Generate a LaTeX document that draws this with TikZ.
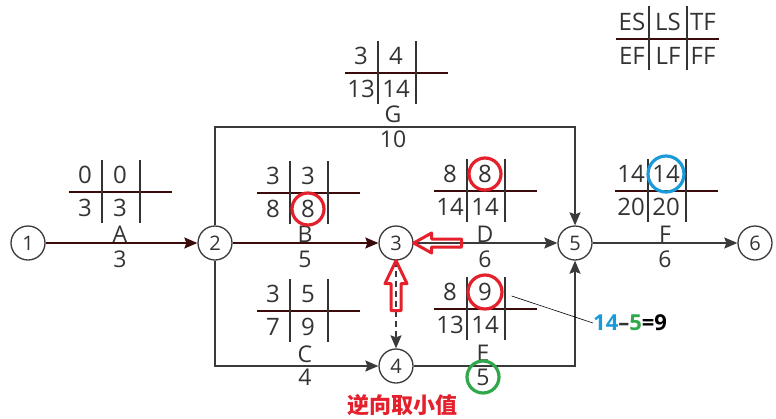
\documentclass[tikz,border=0pt]{standalone}
\usepackage{fontspec}
\setmainfont{Open Sans}
\newfontfamily\cjk{Noto Sans CJK SC}
\usetikzlibrary{arrows.meta,calc}
\definecolor{txt}{HTML}{333333}
\definecolor{maroon}{HTML}{3B0A0A}
\definecolor{edgec}{HTML}{3A3A3A}
\definecolor{myred}{HTML}{E3202B}
\definecolor{myblue}{HTML}{1B9AD8}
\definecolor{mygreen}{HTML}{2EA84A}
\tikzset{
  ev/.style={circle,draw=edgec,line width=1.3pt,fill=white,minimum size=34pt,inner sep=0pt,font=\fontsize{20}{22}\selectfont,text=txt},
  num/.style={inner sep=0pt,font=\fontsize{24}{26}\selectfont,text=txt},
  lab/.style={inner sep=0pt,font=\fontsize{23}{25}\selectfont,text=txt},
  hline/.style={draw=maroon,line width=1.6pt},
  vline/.style={draw=txt,line width=1.4pt},
  edge/.style={draw=edgec,line width=1.6pt,-{Stealth[length=13pt,width=11pt,inset=2pt]}},
  medge/.style={edge,draw=maroon},
  ring/.style={circle,draw=#1,line width=3.2pt,inner sep=0pt,minimum size=32pt},
  redarr/.style={draw=myred,line width=3pt,line join=round},
}
\newcommand\tabl[7]{%
  \draw[hline] (#2,#3) -- ++(103,0);
  \draw[vline] (#2+33,#3-32) -- ++(0,63);
  \draw[vline] (#2+71,#3-32) -- ++(0,63);
  \node[num] (#1a) at (#2+16,#3-17) {#4};
  \node[num] (#1b) at (#2+51,#3-17) {#5};
  \node[num] (#1c) at (#2+16,#3+16) {#6};
  \node[num] (#1d) at (#2+51,#3+16) {#7};
}
\begin{document}
\begin{tikzpicture}[x=1pt,y=-1pt]
\useasboundingbox (0,0) rectangle (776,418);
% events
\node[ev] (n1) at (28,243) {1};
\node[ev] (n2) at (215,243) {2};
\node[ev] (n3) at (396,243) {3};
\node[ev] (n5) at (575,243) {5};
\node[ev] (n6) at (755,243) {6};
\node[ev] (n4) at (396,366) {4};
\coordinate (gtop) at (393,127);
% activities
\draw[medge] (n1) -- (n2);
\draw[medge] (n2) -- (n3);
\draw[edge] (n3) -- (n5);
\draw[edge] (n5) -- (n6);
\draw[edge] (n2) |- (gtop) -| (n5);
\draw[edge] (n2) |- (n4);
\draw[edge] (n4) -| (n5);
\draw[edge,dash pattern=on 6pt off 4pt] (n3) -- (n4);
% labels
\node[lab] (lA) at (120,234) {A};  \node[lab] (dA) at (120,259) {3};
\node[lab] (lB) at (305,234) {B};  \node[lab] (dB) at (305,259) {5};
\node[lab] (lD) at (485,234) {D};  \node[lab] (dD) at (485,259) {6};
\node[lab] (lF) at (665,234) {F};  \node[lab] (dF) at (665,259) {6};
\node[lab] (lG) at (393,114) {G};  \node[lab] (dG) at (393,139) {10};
\node[lab] (lC) at (305,354) {C};  \node[lab] (dC) at (305,377) {4};
\node[lab] (lE) at (483,353) {E};  \node[lab] (dE) at (483,377) {5};
% tables
\tabl{tA}{69}{192}{0}{0}{3}{3}
\tabl{tB}{257}{193}{3}{3}{8}{8}
\tabl{tD}{434}{191}{8}{8}{14}{14}
\tabl{tF}{615}{191}{14}{14}{20}{20}
\tabl{tG}{345}{73}{3}{4}{13}{14}
\tabl{tC}{257}{311}{3}{5}{7}{9}
\tabl{tE}{434}{309}{8}{9}{13}{14}
% legend
\draw[hline] (616,39) -- ++(103,0);
\draw[vline] (649,6) -- ++(0,64);
\draw[vline] (687,6) -- ++(0,64);
\node[num] (es) at (632,22) {ES};
\node[num] (ls) at (668,22) {LS};
\node[num] (tf) at (703,22) {TF};
\node[num] (ef) at (632,56) {EF};
\node[num] (lf) at (668,56) {LF};
\node[num] (ff) at (703,56) {FF};
% rings
\node[ring=myred] (r1) at (tBd) {};
\node[ring=myred] (r2) at (tDb) {};
\node[ring=myred,minimum size=34pt] (r3) at (tEb) {};
\node[ring=myblue,minimum size=36pt] (r4) at (tFb) {};
\node[ring=mygreen] (r5) at (dE) {};
% red hollow arrows
\draw[redarr] (n3.east) -- ++(18,-10) -- ++(0,6) -- ++(30,0) -- ++(0,8) -- ++(-30,0) -- ++(0,6) -- cycle;
\draw[redarr] (n3.south) -- ++(-11,23) -- ++(6,0) -- ++(0,27) -- ++(10,0) -- ++(0,-27) -- ++(6,0) -- cycle;
% annotation
\node[inner sep=0pt,anchor=west,font=\fontsize{22}{24}\selectfont\bfseries] (fml) at (593,323) {\textcolor{myblue}{14}\textcolor{txt}{–}\textcolor{mygreen}{5}\textcolor{black}{=9}};
\draw[black,line width=0.6pt] (r3.east) ++(8,4) coordinate (ast) -- (fml.west);
\node[inner sep=0pt,font=\cjk\bfseries\fontsize{22}{24}\selectfont,text=myred] (cn) at (402,405) {逆向取小值};
\end{tikzpicture}
\end{document}
